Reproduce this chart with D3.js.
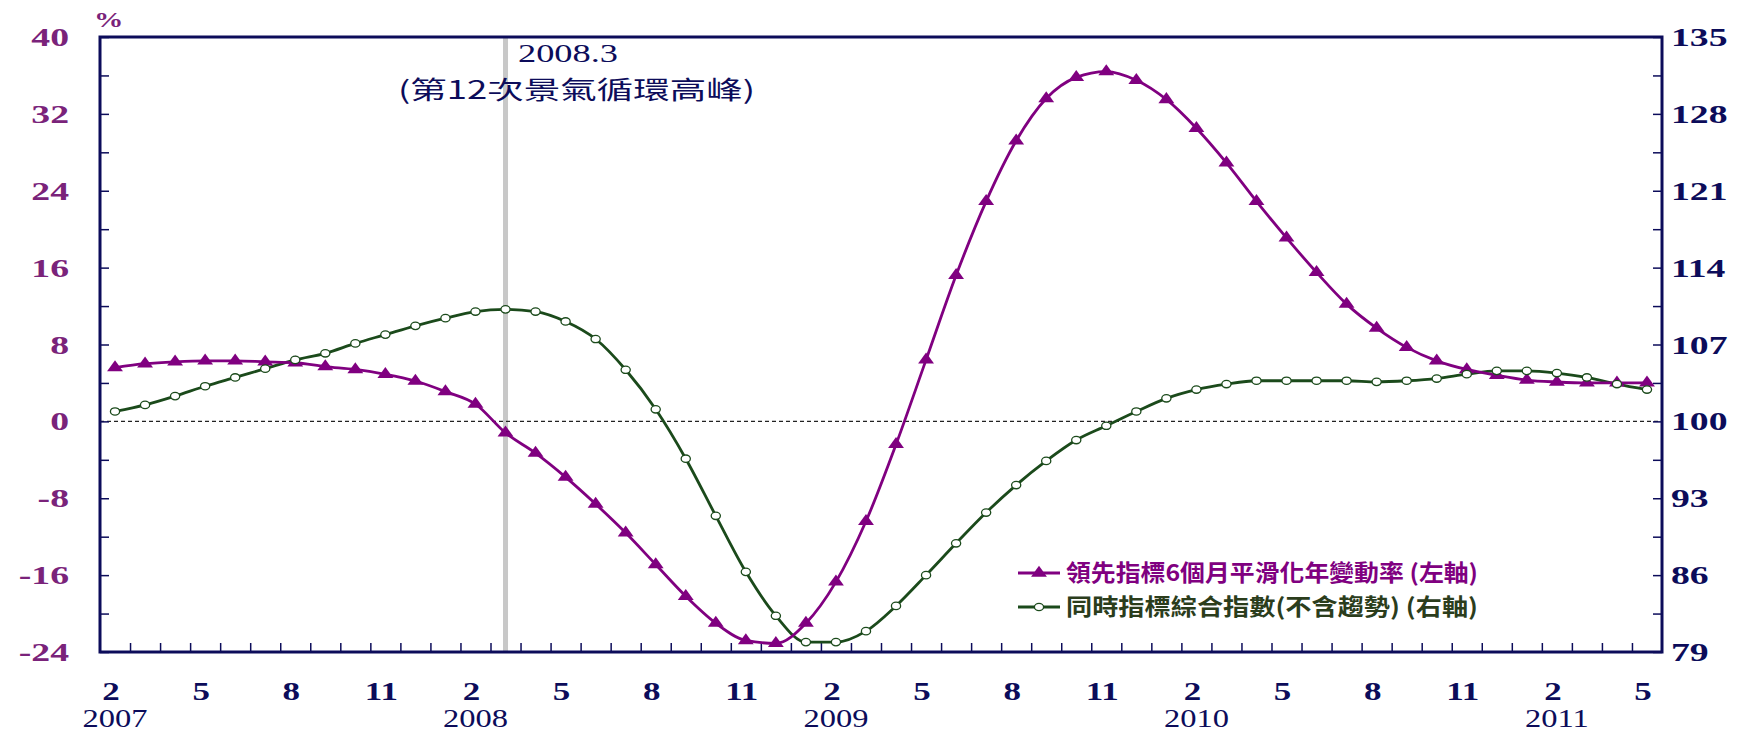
<!DOCTYPE html>
<html><head><meta charset="utf-8">
<script src="https://cdn.jsdelivr.net/npm/d3@7"></script>
<style>
html,body{margin:0;padding:0;background:#fff;}
svg{display:block;}
</style></head>
<body>
<svg id="chart" width="1751" height="732"></svg>
<script>
// ---- data ----
const months = ["2","3","4","5","6","7","8","9","10","11","12","1",
  "2","3","4","5","6","7","8","9","10","11","12","1",
  "2","3","4","5","6","7","8","9","10","11","12","1",
  "2","3","4","5","6","7","8","9","10","11","12","1",
  "2","3","4","5"];
const leadingRate = [5.6,6.0,6.2,6.3,6.3,6.2,6.1,5.7,5.4,4.9,4.2,3.1,
  1.8,-1.2,-3.3,-5.8,-8.6,-11.6,-14.9,-18.2,-21.0,-22.8,-23.1,-21.0,
  -16.7,-10.4,-2.4,6.4,15.2,22.9,29.2,33.6,35.8,36.4,35.5,33.5,
  30.5,26.9,22.9,19.1,15.5,12.2,9.7,7.7,6.3,5.4,4.8,4.3,
  4.1,4.0,4.0,4.0];
const coincidentIdx = [100.9,101.5,102.3,103.2,104.0,104.8,105.6,106.2,107.1,107.9,108.7,109.4,
  110.0,110.2,110.0,109.1,107.5,104.7,101.1,96.6,91.4,86.3,82.3,79.9,
  79.9,80.9,83.2,86.0,88.9,91.7,94.2,96.4,98.3,99.6,100.9,102.1,
  102.9,103.4,103.7,103.7,103.7,103.7,103.6,103.7,103.9,104.3,104.6,104.6,
  104.4,104.0,103.4,102.9];
const leftTicks = [-24,-16,-8,0,8,16,24,32,40];
const rightTicks = [79,86,93,100,107,114,121,128,135];
const monthLabelIdx = d3.range(0,52,3);
const yearLabels = [{i:0,t:"2007"},{i:12,t:"2008"},{i:24,t:"2009"},{i:36,t:"2010"},{i:48,t:"2011"}];
const seriesNames = ["領先指標6個月平滑化年變動率 (左軸)","同時指標綜合指數(不含趨勢) (右軸)"];
const peakIdx = 13;
const peakLabel = ["2008.3","(第12次景氣循環高峰)"];

// ---- layout ----
const L=100,R=1662,T=37,B=652;
const PURPLE="#800080", GREEN="#1b4a1b", NAVY="#0c0c5a", LPURP="#7a237a";
const svg=d3.select("#chart");

const xb=d3.scaleBand().domain(d3.range(52)).range([L,R]).padding(0);
const xc=i=>xb(i)+xb.bandwidth()/2;
const xe=d3.scaleLinear().domain([0,52]).range([L,R]);
const yL=d3.scaleLinear().domain([-24,40]).range([B,T]);
const yR=d3.scaleLinear().domain([79,135]).range([B,T]);

// peak line
svg.append("line").attr("x1",xc(peakIdx)).attr("x2",xc(peakIdx)).attr("y1",T).attr("y2",B)
  .attr("stroke","#c8c8c8").attr("stroke-width",5);

// zero dashed line
svg.append("line").attr("x1",L).attr("x2",R).attr("y1",yL(0)).attr("y2",yL(0))
  .attr("stroke","#222").attr("stroke-width",1.2).attr("stroke-dasharray","4,3");

// ticks (inside)
const minorL=d3.range(-24,40.01,4);
svg.append("g").attr("transform",`translate(${L},0)`)
  .call(d3.axisRight(yL).tickValues(minorL).tickSize(9).tickFormat(""))
  .call(g=>{g.select(".domain").remove();g.selectAll("line").attr("stroke",NAVY).attr("stroke-width",1.5);});
const minorR=d3.range(79,135.01,3.5);
svg.append("g").attr("transform",`translate(${R},0)`)
  .call(d3.axisLeft(yR).tickValues(minorR).tickSize(9).tickFormat(""))
  .call(g=>{g.select(".domain").remove();g.selectAll("line").attr("stroke",NAVY).attr("stroke-width",1.5);});
svg.append("g").attr("transform",`translate(0,${B})`)
  .call(d3.axisTop(xe).tickValues(d3.range(1,52)).tickSize(9).tickFormat(""))
  .call(g=>{g.select(".domain").remove();g.selectAll("line").attr("stroke",NAVY).attr("stroke-width",1.5);});

// border
svg.append("rect").attr("x",L).attr("y",T).attr("width",R-L).attr("height",B-T)
  .attr("fill","none").attr("stroke",NAVY).attr("stroke-width",3);

// tick labels
const serif="'Liberation Serif','Times New Roman',serif";
svg.append("g").selectAll("text").data(leftTicks).join("text")
  .attr("transform",d=>`translate(69,${yL(d)+9}) scale(1.45,1)`)
  .attr("text-anchor","end").attr("font-family",serif).attr("font-weight","bold")
  .attr("font-size",26).attr("fill",LPURP).text(d=>d);
svg.append("g").selectAll("text").data(rightTicks).join("text")
  .attr("transform",d=>`translate(1671,${yR(d)+9}) scale(1.45,1)`)
  .attr("text-anchor","start").attr("font-family",serif).attr("font-weight","bold")
  .attr("font-size",26).attr("fill",NAVY).text(d=>d);
svg.append("g").selectAll("text").data(monthLabelIdx).join("text")
  .attr("transform",d=>`translate(${xc(d)-4},${700}) scale(1.4,1)`)
  .attr("text-anchor","middle").attr("font-family",serif).attr("font-weight","bold")
  .attr("font-size",25).attr("fill",NAVY).text(d=>months[d]);
svg.append("g").selectAll("text").data(yearLabels).join("text")
  .attr("transform",d=>`translate(${xc(d.i)},${727}) scale(1.3,1)`)
  .attr("text-anchor","middle").attr("font-family",serif)
  .attr("font-size",25).attr("fill",NAVY).text(d=>d.t);
svg.append("text").attr("transform",`translate(94,27) scale(1.4,1)`)
  .attr("font-family",serif).attr("font-weight","bold").attr("font-size",21)
  .attr("fill",LPURP).text("%");

// annotation
svg.append("text").attr("x",518).attr("y",62).attr("textLength",100).attr("lengthAdjust","spacingAndGlyphs")
  .attr("font-family",serif).attr("font-size",26).attr("fill",NAVY).text(peakLabel[0]);
svg.append("text").attr("x",398).attr("y",99).attr("textLength",357).attr("lengthAdjust","spacingAndGlyphs")
  .attr("font-family","'Noto Sans CJK TC',sans-serif").attr("font-size",25).attr("fill",NAVY).text(peakLabel[1]);

// lines
const lineL=d3.line().x((d,i)=>xc(i)).y(d=>yL(d)).curve(d3.curveMonotoneX);
const lineR=d3.line().x((d,i)=>xc(i)).y(d=>yR(d)).curve(d3.curveMonotoneX);
svg.append("path").datum(coincidentIdx).attr("d",lineR).attr("fill","none").attr("stroke",GREEN).attr("stroke-width",2.8);
svg.append("path").datum(leadingRate).attr("d",lineL).attr("fill","none").attr("stroke",PURPLE).attr("stroke-width",2.8);

const tri=d3.symbol().type(d3.symbolTriangle).size(70);
svg.append("g").selectAll("path").data(leadingRate).join("path")
  .attr("transform",(d,i)=>`translate(${xc(i)},${yL(d)}) scale(1.25,1)`).attr("d",tri).attr("fill",PURPLE);
svg.append("g").selectAll("ellipse").data(coincidentIdx).join("ellipse")
  .attr("cx",(d,i)=>xc(i)).attr("cy",d=>yR(d)).attr("rx",4.6).attr("ry",3.7)
  .attr("fill","#fff").attr("stroke",GREEN).attr("stroke-width",1.3);

// legend
const cjk="'Noto Sans CJK TC',sans-serif";
const lg=svg.append("g");
[{c:PURPLE,t:seriesNames[0],y:573,m:"tri",tc:PURPLE},{c:GREEN,t:seriesNames[1],y:607,m:"circ",tc:"#2b3d1c"}].forEach(s=>{
  lg.append("line").attr("x1",1018).attr("x2",1060).attr("y1",s.y).attr("y2",s.y).attr("stroke",s.c).attr("stroke-width",2.8);
  if(s.m==="tri") lg.append("path").attr("transform",`translate(1039,${s.y}) scale(1.25,1)`).attr("d",tri).attr("fill",s.c);
  else lg.append("ellipse").attr("cx",1039).attr("cy",s.y).attr("rx",4.6).attr("ry",3.7).attr("fill","#fff").attr("stroke",s.c).attr("stroke-width",1.3);
  lg.append("text").attr("x",1066).attr("y",s.y+8).attr("textLength",412).attr("lengthAdjust","spacingAndGlyphs")
    .attr("font-family",cjk).attr("font-weight","bold").attr("font-size",23).attr("fill",s.tc).text(s.t);
});
</script>
</body></html>
